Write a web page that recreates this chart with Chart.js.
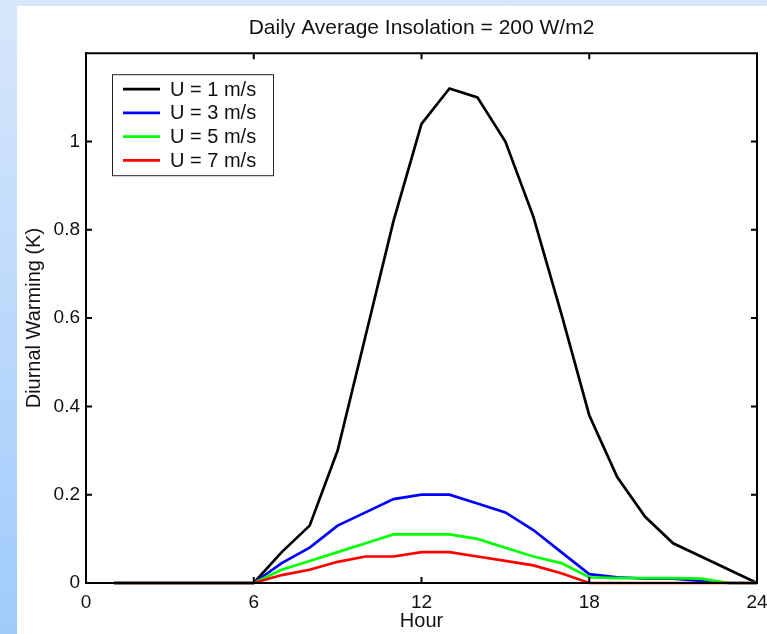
<!DOCTYPE html>
<html>
<head>
<meta charset="utf-8">
<script src="https://cdn.jsdelivr.net/npm/chart.js@4.4.1/dist/chart.umd.min.js"></script>
<style>
  html, body { margin: 0; padding: 0; }
  body {
    width: 767px; height: 634px; overflow: hidden; position: relative;
    background: linear-gradient(to bottom, #d8e7fb 0%, #9fcbfb 100%);
  }
  #panel {
    position: absolute; left: 17px; top: 6px; width: 750px; height: 628px;
    background: #ffffff;
  }
  #c { display: block; }
</style>
</head>
<body>
<div id="panel"><canvas id="c" width="750" height="628"></canvas></div>
<script>
// ---- data ----
const hours = [1,2,3,4,5,6,7,8,9,10,11,12,13,14,15,16,17,18,19,20,21,22,23,24];
const u1 = [0,0,0,0,0,0,0.07,0.13,0.30,0.56,0.82,1.04,1.12,1.10,1.00,0.83,0.61,0.38,0.24,0.15,0.09,0.06,0.03,0];
const u3 = [0,0,0,0,0,0,0.045,0.08,0.13,0.16,0.19,0.20,0.20,0.18,0.16,0.12,0.07,0.02,0.013,0.01,0.01,0.005,0,0];
const u5 = [0,0,0,0,0,0,0.03,0.05,0.07,0.09,0.11,0.11,0.11,0.10,0.08,0.06,0.045,0.013,0.011,0.011,0.011,0.01,0,0];
const u7 = [0,0,0,0,0,0,0.018,0.03,0.048,0.06,0.06,0.07,0.07,0.06,0.05,0.04,0.022,0,0,0,0,0,0,0];
const seriesLabels = ['U = 1 m/s', 'U = 3 m/s', 'U = 5 m/s', 'U = 7 m/s'];
const seriesColors = ['#000000', '#0000ff', '#00ff00', '#ff0000'];
const xTicks = [0, 6, 12, 18, 24];
const yTicks = [0, 0.2, 0.4, 0.6, 0.8, 1];
const titleText = 'Daily Average Insolation = 200 W/m2';
const xTitle = 'Hour';
const yTitle = 'Diurnal Warming (K)';

const FONT = '"Liberation Sans", Arial, Helvetica, sans-serif';
const allSeries = [u1, u3, u5, u7];

const datasets = allSeries.map((arr, i) => ({
  label: seriesLabels[i],
  data: hours.map((h, j) => ({ x: h, y: arr[j] })),
  borderColor: seriesColors[i],
  backgroundColor: seriesColors[i],
  borderWidth: 2.7,
  pointRadius: 0,
  tension: 0,
  fill: false,
  clip: false,
  order: allSeries.length - i
}));

// Box + inward ticks (MATLAB style)
const boxPlugin = {
  id: 'boxTicks',
  afterDatasetsDraw(chart) {
    const { ctx, chartArea: a, scales } = chart;
    ctx.save();
    ctx.strokeStyle = '#000';
    ctx.lineWidth = 2;
    ctx.beginPath();
    ctx.rect(a.left, a.top, a.right - a.left, a.bottom - a.top);
    ctx.stroke();
    const tl = 6;
    ctx.beginPath();
    xTicks.forEach(v => {
      const px = scales.x.getPixelForValue(v);
      ctx.moveTo(px, a.bottom); ctx.lineTo(px, a.bottom - tl);
      ctx.moveTo(px, a.top); ctx.lineTo(px, a.top + tl);
    });
    yTicks.forEach(v => {
      const py = scales.y.getPixelForValue(v);
      ctx.moveTo(a.left, py); ctx.lineTo(a.left + tl, py);
      ctx.moveTo(a.right, py); ctx.lineTo(a.right - tl, py);
    });
    ctx.stroke();
    ctx.restore();
  }
};

// Legend box inside plot (upper left)
const legendPlugin = {
  id: 'innerLegend',
  afterDraw(chart) {
    const { ctx, chartArea: a } = chart;
    const bx = a.left + 26, by = a.top + 21, bw = 161, bh = 101;
    ctx.save();
    ctx.fillStyle = '#fff';
    ctx.fillRect(bx, by, bw, bh);
    ctx.strokeStyle = '#222';
    ctx.lineWidth = 1;
    ctx.strokeRect(bx + 0.5, by + 0.5, bw, bh);
    ctx.font = '20px ' + FONT;
    ctx.textBaseline = 'middle';
    ctx.textAlign = 'left';
    chart.data.datasets.forEach((ds, i) => {
      const cy = by + 15 + i * 23.7;
      ctx.strokeStyle = ds.borderColor;
      ctx.lineWidth = 2.7;
      ctx.beginPath();
      ctx.moveTo(bx + 11, cy); ctx.lineTo(bx + 48, cy);
      ctx.stroke();
      ctx.fillStyle = '#111';
      ctx.fillText(ds.label, bx + 58, cy + 1);
    });
    ctx.restore();
  }
};

new Chart(document.getElementById('c'), {
  type: 'line',
  data: { datasets },
  plugins: [boxPlugin, legendPlugin],
  options: {
    responsive: false,
    animation: false,
    devicePixelRatio: 1,
    layout: { padding: { left: 0, right: 10, top: 0, bottom: 0 } },
    plugins: {
      legend: { display: false },
      tooltip: { enabled: false },
      title: {
        display: true,
        fullSize: false,
        text: titleText,
        color: '#111',
        font: { family: FONT, size: 21, weight: 'normal', lineHeight: 1.2 },
        padding: { top: 10, bottom: 12 }
      }
    },
    scales: {
      x: {
        type: 'linear',
        min: 0, max: 24,
        afterBuildTicks(scale) { scale.ticks = xTicks.map(v => ({ value: v })); },
        afterFit(scale) { scale.height = 51; scale.paddingLeft = 0; scale.paddingRight = 0; },
        grid: { display: false, drawTicks: false },
        border: { display: true, color: '#000', width: 2 },
        ticks: {
          color: '#111', padding: 8, maxRotation: 0, autoSkip: false,
          font: { family: FONT, size: 19 }
        },
        title: {
          display: true, text: xTitle, color: '#111',
          font: { family: FONT, size: 20, lineHeight: 1.2 },
          padding: { top: 0, bottom: 1 }
        }
      },
      y: {
        type: 'linear',
        min: 0, max: 1.2,
        afterBuildTicks(scale) { scale.ticks = yTicks.map(v => ({ value: v })); },
        afterFit(scale) { scale.width = 69; scale.paddingTop = 0; scale.paddingBottom = 0; },
        grid: { display: false, drawTicks: false },
        border: { display: true, color: '#000', width: 2 },
        ticks: {
          color: '#111', padding: 6, autoSkip: false,
          font: { family: FONT, size: 19 },
          callback: v => String(Math.round(v * 10) / 10)
        },
        title: {
          display: true, text: yTitle, color: '#111',
          font: { family: FONT, size: 20, lineHeight: 1.2 },
          padding: { top: 5, bottom: 0 }
        }
      }
    }
  }
});
</script>
</body>
</html>
